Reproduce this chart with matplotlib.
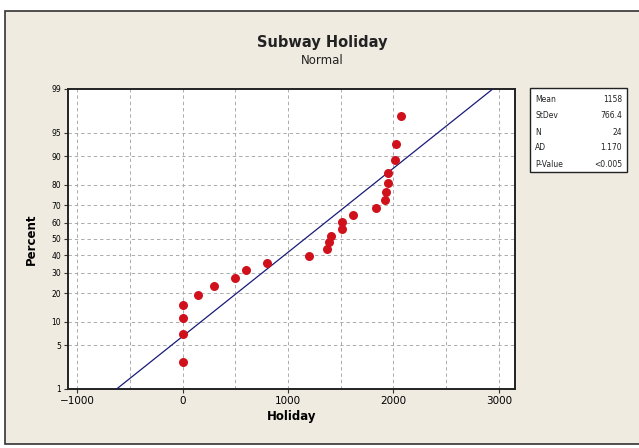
import matplotlib
matplotlib.use('Agg')
import matplotlib.pyplot as plt
from matplotlib.patches import Rectangle
from statistics import NormalDist

# Holiday values (sorted)
holiday = [0, 0, 0, 0, 150, 300, 500, 600, 800, 1200, 1370, 1390,
           1410, 1510, 1510, 1620, 1830, 1920, 1930, 1950, 1950, 2010, 2020, 2070]
mean = 1158
stdev = 766.4
stat_labels = ['Mean', 'StDev', 'N', 'AD', 'P-Value']
stat_values = ['1158', '766.4', '24', '1.170', '<0.005']
pct_ticks = [1, 5, 10, 20, 30, 40, 50, 60, 70, 80, 90, 95, 99]
x_ticks = [-1000, 0, 1000, 2000, 3000]

nd = NormalDist()
z = lambda p: nd.inv_cdf(p / 100.0)

n = len(holiday)
ranks = [100 * (i + 1 - 0.3) / (n + 0.4) for i in range(n)]

W, H = 639, 448
fig = plt.figure(figsize=(W / 100, H / 100), dpi=100, facecolor='white')
bg = '#EFEBE1'
fig.patches.append(Rectangle((5 / W, 4 / H), 1.0, 1 - 15 / H, transform=fig.transFigure,
                             facecolor=bg, edgecolor='#333333', lw=1.2, zorder=-5))

ax = fig.add_axes([68 / W, 1 - 389 / H, (515 - 68) / W, (389 - 89) / H])
ax.set_facecolor('white')

# fitted line from mean / stdev
lo, hi = z(1), z(99)
ax.plot([mean + lo * stdev, mean + hi * stdev], [lo, hi], color='#1a1a7a', lw=0.9, zorder=3)

ax.scatter(holiday, [z(p) for p in ranks], s=42, color='#D0101A', zorder=4, linewidths=0)

ax.set_xlim(-1086, 3152)
ax.set_ylim(z(1), z(99))
ax.set_xticks(x_ticks)
ax.set_xticks([-500, 500, 1500, 2500], minor=True)
ax.set_yticks([z(p) for p in pct_ticks])
ax.set_yticklabels([str(p) for p in pct_ticks])
ax.tick_params(axis='both', which='major', labelsize=7, length=3, color='#333333')
ax.tick_params(axis='x', which='minor', length=0)
ax.tick_params(axis='y', labelsize=5.5, pad=2)
ax.tick_params(axis='x', labelsize=7.5, pad=2)

gkw = dict(color='#ababab', ls=(0, (3.5, 3)), lw=0.7, zorder=1)
for xv in range(-1000, 3001, 500):
    ax.axvline(xv, **gkw)
for p in pct_ticks[1:-1]:
    ax.axhline(z(p), **gkw)

for sp in ax.spines.values():
    sp.set_color('#222222')
    sp.set_linewidth(1.4)

ax.set_xlabel('Holiday', fontsize=8.5, fontweight='bold', labelpad=3)
ax.set_ylabel('Percent', fontsize=8.5, fontweight='bold', labelpad=10)

fig.text(322 / W, 1 - 43 / H, 'Subway Holiday', ha='center', va='center',
         fontsize=10.5, fontweight='bold', color='#222222')
fig.text(322 / W, 1 - 60 / H, 'Normal', ha='center', va='center',
         fontsize=8.5, color='#222222')

# statistics box
fig.patches.append(Rectangle((530 / W, 1 - 172 / H), 97 / W, 84 / H, transform=fig.transFigure,
                             facecolor='white', edgecolor='#222222', lw=1.0))
row_y = [99, 116, 132, 147, 164]
for lab, val, yy in zip(stat_labels, stat_values, row_y):
    fig.text(535 / W, 1 - yy / H, lab, ha='left', va='center', fontsize=5.5, color='#222222')
    fig.text(622 / W, 1 - yy / H, val, ha='right', va='center', fontsize=5.5, color='#222222')

fig.savefig('out.png', dpi=100, facecolor=fig.get_facecolor())
